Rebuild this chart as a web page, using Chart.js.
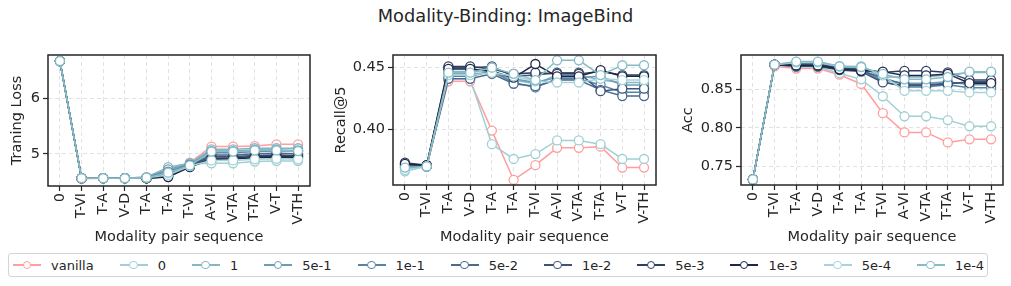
<!DOCTYPE html>
<html>
<head>
<meta charset="utf-8">
<script src="https://cdn.jsdelivr.net/npm/chart.js@4.4.0/dist/chart.umd.min.js"></script>
<style>
body{margin:0;background:#fff;font-family:"DejaVu Sans",sans-serif;}
#wrap{position:relative;width:1011px;height:286px;overflow:hidden;}
#title{position:absolute;left:0;width:1011px;top:5px;text-align:center;font-size:17.8px;color:#262626;}
.panel{position:absolute;top:40px;}
#legend{position:absolute;left:8px;top:253px;width:980px;height:24px;border:1px solid #d4d4d4;border-radius:3px;display:flex;align-items:center;font-size:13px;color:#262626;box-sizing:border-box;padding-left:4px;white-space:nowrap;}
.item{display:flex;align-items:center;margin-right:26px;flex-shrink:0;}
.mk{position:relative;width:28px;height:10px;margin-right:10px;flex-shrink:0;}
.mk .ln{position:absolute;left:0;right:0;top:4.2px;height:1.5px;}
.mk .dot{position:absolute;left:9.5px;top:0.5px;width:6.5px;height:6.5px;border-radius:50%;background:#fff;border:1.3px solid;}
</style>
</head>
<body>
<div id="wrap">
  <div id="title">Modality-Binding: ImageBind</div>
  <canvas id="c1" class="panel" style="left:0px" width="322" height="206"></canvas>
  <canvas id="c2" class="panel" style="left:328px" width="340" height="206"></canvas>
  <canvas id="c3" class="panel" style="left:675px" width="336" height="206"></canvas>
  <div id="legend"></div>
</div>
<script>
const pairs = ['0','T-VI','T-A','V-D','T-A','T-A','T-VI','A-VI','V-TA','T-TA','V-T','V-TH'];
const seriesNames = ['vanilla','0','1','5e-1','1e-1','5e-2','1e-2','5e-3','1e-3','5e-4','1e-4'];
const seriesColors = ['#ff9e9e','#9fd0d4','#84b6c5','#6c9db6','#5a83a3','#4a6a8f','#3d5479','#2f3f62','#1f2744','#a6d4d8','#87bcc6'];

// training loss, one row per series
const lossValues = [
  [6.67, 4.55, 4.56, 4.56, 4.58, 4.70, 4.84, 5.13, 5.13, 5.14, 5.17, 5.17],
  [6.67, 4.56, 4.56, 4.56, 4.57, 4.74, 4.82, 4.83, 4.83, 4.86, 4.87, 4.87],
  [6.67, 4.56, 4.56, 4.56, 4.58, 4.76, 4.83, 5.08, 5.08, 5.10, 5.10, 5.10],
  [6.67, 4.56, 4.56, 4.56, 4.57, 4.72, 4.81, 5.05, 5.05, 5.07, 5.07, 5.06],
  [6.67, 4.56, 4.56, 4.56, 4.57, 4.68, 4.80, 5.02, 5.02, 5.04, 5.05, 5.05],
  [6.67, 4.56, 4.56, 4.56, 4.56, 4.64, 4.79, 4.98, 4.98, 5.00, 5.01, 5.00],
  [6.67, 4.56, 4.56, 4.56, 4.56, 4.60, 4.78, 4.95, 4.95, 4.97, 4.98, 4.97],
  [6.67, 4.56, 4.56, 4.56, 4.56, 4.59, 4.77, 4.92, 4.93, 4.95, 4.96, 4.95],
  [6.67, 4.56, 4.56, 4.56, 4.56, 4.58, 4.76, 4.90, 4.91, 4.93, 4.94, 4.93],
  [6.67, 4.56, 4.56, 4.56, 4.57, 4.62, 4.78, 4.88, 4.88, 4.90, 4.91, 4.90],
  [6.67, 4.56, 4.56, 4.56, 4.57, 4.66, 4.79, 5.04, 5.04, 5.06, 5.06, 5.05]
];
const recallValues = [
  [0.370, 0.371, 0.439, 0.439, 0.399, 0.359, 0.371, 0.385, 0.385, 0.386, 0.369, 0.369],
  [0.366, 0.370, 0.441, 0.441, 0.388, 0.376, 0.380, 0.391, 0.391, 0.388, 0.376, 0.376],
  [0.368, 0.370, 0.447, 0.447, 0.448, 0.440, 0.437, 0.444, 0.444, 0.440, 0.438, 0.438],
  [0.369, 0.370, 0.445, 0.445, 0.446, 0.441, 0.438, 0.442, 0.442, 0.443, 0.436, 0.436],
  [0.370, 0.370, 0.443, 0.443, 0.447, 0.438, 0.434, 0.441, 0.441, 0.436, 0.430, 0.430],
  [0.371, 0.370, 0.441, 0.441, 0.445, 0.437, 0.435, 0.440, 0.440, 0.432, 0.427, 0.427],
  [0.372, 0.370, 0.450, 0.450, 0.451, 0.443, 0.444, 0.446, 0.446, 0.431, 0.433, 0.433],
  [0.373, 0.371, 0.451, 0.451, 0.449, 0.445, 0.446, 0.445, 0.445, 0.447, 0.444, 0.444],
  [0.372, 0.371, 0.449, 0.449, 0.447, 0.442, 0.453, 0.443, 0.443, 0.448, 0.443, 0.443],
  [0.367, 0.370, 0.444, 0.444, 0.446, 0.443, 0.439, 0.438, 0.438, 0.441, 0.440, 0.440],
  [0.369, 0.370, 0.446, 0.446, 0.450, 0.445, 0.440, 0.456, 0.456, 0.444, 0.452, 0.452]
];
const accValues = [
  [0.733, 0.880, 0.877, 0.877, 0.869, 0.857, 0.819, 0.794, 0.794, 0.781, 0.785, 0.785],
  [0.733, 0.882, 0.879, 0.879, 0.871, 0.863, 0.841, 0.815, 0.815, 0.810, 0.802, 0.802],
  [0.733, 0.882, 0.884, 0.884, 0.879, 0.878, 0.866, 0.866, 0.866, 0.869, 0.872, 0.872],
  [0.733, 0.882, 0.882, 0.882, 0.878, 0.876, 0.862, 0.858, 0.858, 0.860, 0.856, 0.856],
  [0.733, 0.882, 0.880, 0.880, 0.877, 0.875, 0.860, 0.853, 0.853, 0.856, 0.852, 0.852],
  [0.733, 0.882, 0.881, 0.881, 0.876, 0.874, 0.865, 0.856, 0.856, 0.858, 0.859, 0.859],
  [0.733, 0.882, 0.880, 0.880, 0.875, 0.873, 0.859, 0.855, 0.855, 0.857, 0.860, 0.860],
  [0.733, 0.882, 0.883, 0.883, 0.877, 0.876, 0.872, 0.874, 0.874, 0.872, 0.862, 0.862],
  [0.733, 0.882, 0.881, 0.881, 0.876, 0.874, 0.873, 0.868, 0.868, 0.870, 0.858, 0.858],
  [0.733, 0.882, 0.885, 0.885, 0.880, 0.880, 0.868, 0.848, 0.848, 0.848, 0.846, 0.846],
  [0.733, 0.882, 0.886, 0.886, 0.880, 0.879, 0.870, 0.863, 0.863, 0.866, 0.873, 0.873]
];
const lossTicks = [5, 6];
const recallTicks = [0.40, 0.45];
const accTicks = [0.75, 0.80, 0.85];

const txt = '#262626';
const fam = '"DejaVu Sans", sans-serif';

const frame = {
  id: 'frame',
  afterDraw(chart){
    let a = chart.chartArea, c = chart.ctx;
    c.save();
    c.strokeStyle = '#262626';
    c.lineWidth = 1.5;
    c.strokeRect(a.left, a.top, a.right - a.left, a.bottom - a.top);
    c.restore();
  }
};

function makePanel(id, values, p){
  let datasets = [];
  for(let i = 0; i < seriesNames.length; i++){
    datasets.push({
      label: seriesNames[i],
      data: values[i].map((v, j) => ({x: j, y: v})),
      borderColor: seriesColors[i],
      backgroundColor: '#fff',
      pointBackgroundColor: '#fff',
      pointBorderColor: seriesColors[i],
      pointRadius: 4.5,
      pointBorderWidth: 1.3,
      borderWidth: 1.5,
      order: -i,
      clip: false
    });
  }
  let grid = {color: '#e2e2e2', lineWidth: 1, tickColor: '#262626', tickLength: 5, tickWidth: 1.2, tickBorderDash: []};
  new Chart(document.getElementById(id), {
    type: 'line',
    data: {datasets: datasets},
    plugins: [frame],
    options: {
      responsive: false,
      animation: false,
      layout: {padding: {top: 15, right: p.right, left: 0, bottom: 0}},
      plugins: {legend: {display: false}, tooltip: {enabled: false}},
      scales: {
        x: {
          type: 'linear', min: -0.55, max: 11.55,
          afterBuildTicks: s => { s.ticks = pairs.map((q, i) => ({value: i})); },
          afterFit: s => { s.height = p.xh; },
          ticks: {callback: v => pairs[v], minRotation: 90, maxRotation: 90, autoSkip: false, padding: 2,
                  color: txt, font: {family: fam, size: 14}},
          grid: grid,
          border: {display: false, dash: [4, 3]},
          title: {display: true, text: 'Modality pair sequence', color: txt, font: {family: fam, size: 14.5}, padding: {top: 0, bottom: 0}}
        },
        y: {
          min: p.min, max: p.max,
          afterBuildTicks: s => { s.ticks = p.ticks.map(v => ({value: v})); },
          afterFit: s => { s.width = p.yw; },
          ticks: {callback: v => v.toFixed(p.dec), padding: 3, color: txt, font: {family: fam, size: 14.5}},
          grid: grid,
          border: {display: false, dash: [4, 3]},
          title: {display: true, text: p.title, color: txt, font: {family: fam, size: 14.5}, padding: {top: p.tp, bottom: 0}}
        }
      }
    }
  });
}

makePanel('c1', lossValues, {min: 4.42, max: 6.78, ticks: lossTicks, dec: 0, title: 'Traning Loss', yw: 48, xh: 60, right: 12, tp: 8.3});
makePanel('c2', recallValues, {min: 0.3549, max: 0.4603, ticks: recallTicks, dec: 2, title: 'Recall@5', yw: 65, xh: 61, right: 12, tp: 4.6});
makePanel('c3', accValues, {min: 0.7257, max: 0.8946, ticks: accTicks, dec: 2, title: 'Acc', yw: 66, xh: 61, right: 8, tp: 4.6});

let lg = document.getElementById('legend');
for(let i = 0; i < seriesNames.length; i++){
  let it = document.createElement('div');
  it.className = 'item';
  it.innerHTML = '<div class="mk"><div class="ln" style="background:' + seriesColors[i] + '"></div>' +
    '<div class="dot" style="border-color:' + seriesColors[i] + '"></div></div><span>' + seriesNames[i] + '</span>';
  lg.appendChild(it);
}
</script>
</body>
</html>
